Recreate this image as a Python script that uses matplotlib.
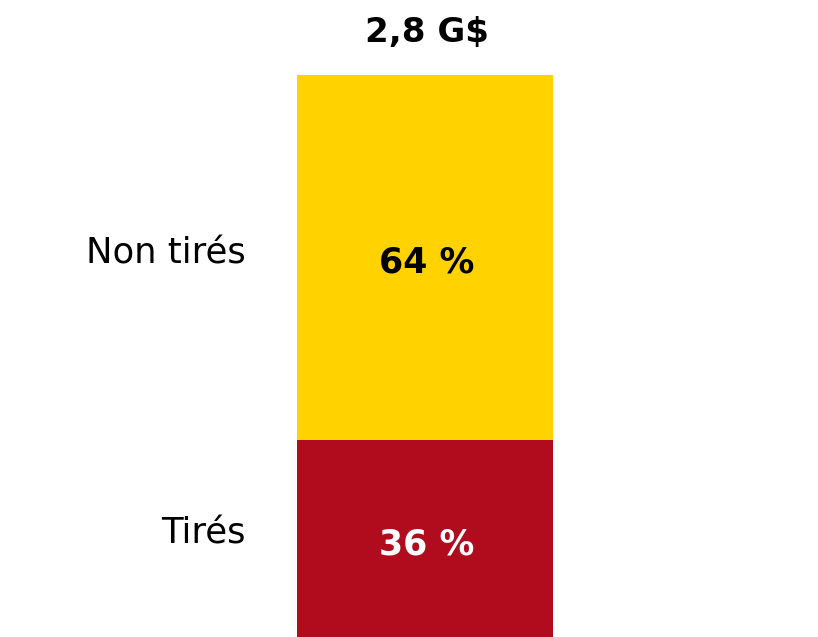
import matplotlib
matplotlib.use("Agg")
import matplotlib.pyplot as plt

categories = ["Tirés", "Non tirés"]
values = [36, 64]
labels = ["36 %", "64 %"]
colors = ["#B00C1E", "#FFD200"]
label_colors = ["white", "black"]
total_label = "2,8 G$"

# baseline offsets (pixels) from segment middle, for value and category labels
val_offsets = [-12.6, -15.6]
cat_offsets = [-1.6, -6.6]

fig = plt.figure(figsize=(8.18, 6.37), dpi=100)
ax = fig.add_axes([0, 0, 1, (637 - 75) / 637])
ax.set_xlim(-0.5 - 297 / 256, 0.5 + (818 - 553) / 256)
ax.set_ylim(1.4, 100)
ax.axis("off")

px = 0.72  # points per pixel at 100 dpi
bottom = 0
for cat, v, lab, c, lc, vo, co in zip(categories, values, labels, colors,
                                      label_colors, val_offsets, cat_offsets):
    ax.bar(0, v, width=1.0, bottom=bottom, color=c, edgecolor="none")
    mid = bottom + v / 2
    ax.annotate(lab, (0, mid), xytext=(1.5 * px, vo * px), textcoords="offset points",
                ha="center", va="baseline", color=lc,
                fontsize=25, fontweight="bold", family="DejaVu Sans")
    ax.annotate(cat, (-0.5, mid), xytext=(-51 * px, co * px), textcoords="offset points",
                ha="right", va="baseline", color="black",
                fontsize=25.5, family="DejaVu Sans")
    bottom += v

fig.text(426.5 / 818, 1 - 42 / 637, total_label, ha="center", va="baseline",
         fontsize=24.5, fontweight="bold", family="DejaVu Sans")

fig.savefig("out.png", dpi=100)
